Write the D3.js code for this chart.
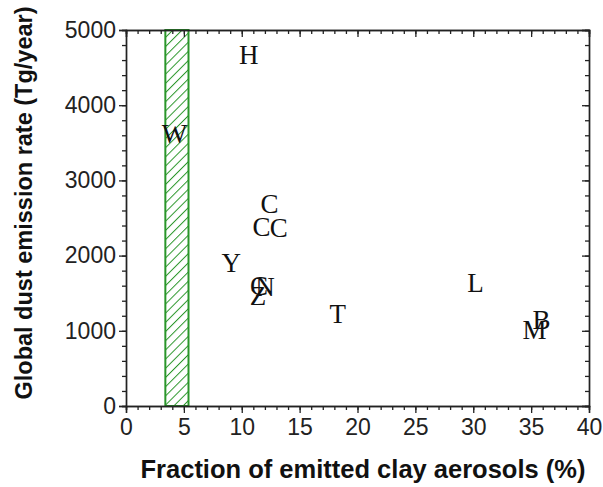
<!DOCTYPE html>
<html>
<head>
<meta charset="utf-8">
<script src="https://cdn.jsdelivr.net/npm/d3@7"></script>
<style>
  html, body { margin: 0; padding: 0; background: #fff; }
  svg { display: block; }
</style>
</head>
<body>
<svg id="chart" width="603" height="487"></svg>
<script>
// Model estimates: letter code, clay fraction (%), global dust emission (Tg/year)
const labels = ["H", "W", "C", "C", "C", "Y", "C", "N", "Z", "T", "L", "M", "B"];
const clayFraction = [10.6, 4.2, 12.4, 11.7, 13.2, 9.1, 11.5, 12.0, 11.4, 18.3, 30.2, 35.3, 35.9];
const emission = [4670, 3620, 2690, 2380, 2365, 1900, 1590, 1580, 1465, 1225, 1635, 1010, 1145];

// Observed clay fraction range (%)
const obsRange = [3.4, 5.4];

const xTicks = [0, 5, 10, 15, 20, 25, 30, 35, 40];
const yTicks = [0, 1000, 2000, 3000, 4000, 5000];

const svg = d3.select("#chart");
const margin = { left: 126, right: 14, top: 30, bottom: 81 };
const W = 603, H = 487;
const x = d3.scaleLinear().domain([0, 40]).range([margin.left, W - margin.right]);
const y = d3.scaleLinear().domain([0, 5000]).range([H - margin.bottom, margin.top]);

const green = "#2a962a";

// Diagonal hatch pattern for the observed range
const defs = svg.append("defs");
const pat = defs.append("pattern")
  .attr("id", "hatch")
  .attr("patternUnits", "userSpaceOnUse")
  .attr("width", 6.5).attr("height", 6.5)
  .attr("patternTransform", "rotate(45)");
pat.append("line")
  .attr("x1", 0).attr("y1", 0).attr("x2", 0).attr("y2", 6.5)
  .attr("stroke", green).attr("stroke-width", 2);

svg.append("rect")
  .attr("x", x(obsRange[0]))
  .attr("y", y(5000))
  .attr("width", x(obsRange[1]) - x(obsRange[0]))
  .attr("height", y(0) - y(5000))
  .attr("fill", "url(#hatch)")
  .attr("stroke", green)
  .attr("stroke-width", 2);

// Axes with major and minor ticks
const axisFont = "Liberation Sans, Arial, sans-serif";
function drawAxis(axisGen, transform, showLabels) {
  const g = svg.append("g").attr("transform", transform).call(axisGen);
  g.select(".domain").attr("stroke", "#222").attr("stroke-width", 1.4);
  g.selectAll(".tick line").attr("stroke", "#222").attr("stroke-width", 1.3);
  g.selectAll("text")
    .attr("font-family", axisFont)
    .attr("font-size", 23)
    .attr("fill", "#222");
  if (!showLabels) g.selectAll("text").remove();
  return g;
}
const xMinor = d3.range(0, 41, 1);
const yMinor = d3.range(0, 5001, 200);

// bottom
drawAxis(d3.axisBottom(x).tickValues(xMinor).tickSize(4).tickFormat(""), `translate(0,${y(0)})`, false);
drawAxis(d3.axisBottom(x).tickValues(xTicks).tickSize(7).tickPadding(6).tickFormat(d3.format("d")), `translate(0,${y(0)})`, true);
// top (inward)
drawAxis(d3.axisBottom(x).tickValues(xMinor).tickSize(4).tickFormat(""), `translate(0,${y(5000)})`, false);
drawAxis(d3.axisBottom(x).tickValues(xTicks).tickSize(7).tickFormat(""), `translate(0,${y(5000)})`, false);
// left
drawAxis(d3.axisLeft(y).tickValues(yMinor).tickSize(4).tickFormat(""), `translate(${x(0)},0)`, false);
drawAxis(d3.axisLeft(y).tickValues(yTicks).tickSize(7).tickPadding(3).tickFormat(d3.format("d")), `translate(${x(0)},0)`, true);
// right (inward)
drawAxis(d3.axisLeft(y).tickValues(yMinor).tickSize(4).tickFormat(""), `translate(${x(40)},0)`, false);
drawAxis(d3.axisLeft(y).tickValues(yTicks).tickSize(7).tickFormat(""), `translate(${x(40)},0)`, false);

// Letter markers
svg.append("g")
  .selectAll("text")
  .data(labels)
  .join("text")
  .attr("x", (d, i) => x(clayFraction[i]))
  .attr("y", (d, i) => y(emission[i]))
  .attr("dy", "0.33em")
  .attr("text-anchor", "middle")
  .attr("font-family", "Liberation Serif, Times New Roman, serif")
  .attr("font-size", 27)
  .attr("fill", "#111")
  .text(d => d);

// Axis titles
svg.append("text")
  .attr("x", 363)
  .attr("y", 478)
  .attr("text-anchor", "middle")
  .attr("font-family", axisFont)
  .attr("font-weight", "bold")
  .attr("font-size", 25.5)
  .attr("fill", "#111")
  .text("Fraction of emitted clay aerosols (%)");

svg.append("text")
  .attr("transform", `translate(32,203) rotate(-90)`)
  .attr("text-anchor", "middle")
  .attr("font-family", axisFont)
  .attr("font-weight", "bold")
  .attr("font-size", 23.5)
  .attr("fill", "#111")
  .text("Global dust emission rate (Tg/year)");
</script>
</body>
</html>
